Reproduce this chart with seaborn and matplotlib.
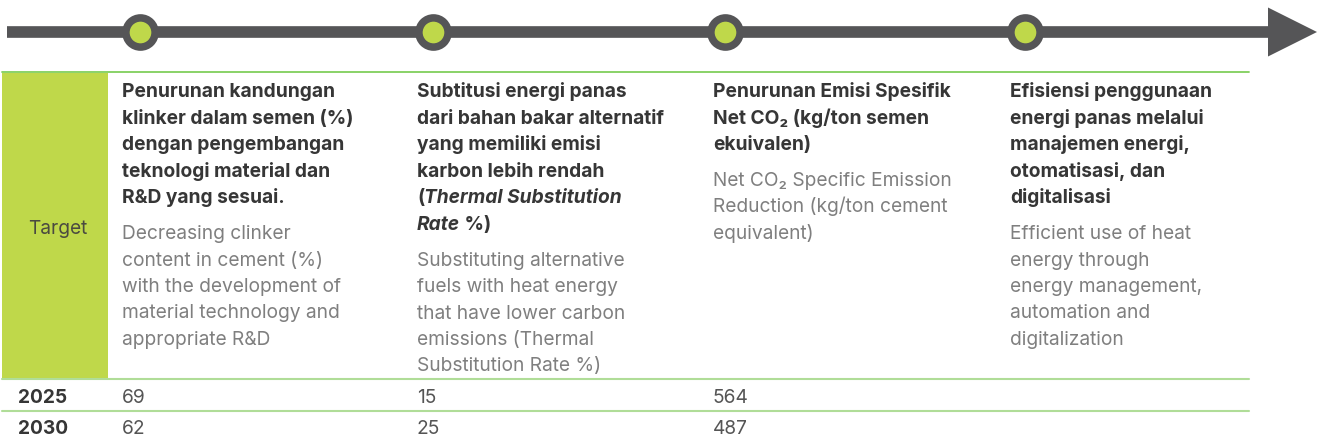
import matplotlib
matplotlib.use("Agg")
import matplotlib.pyplot as plt
import seaborn as sns
import pandas as pd

# --- Data ---
milestones = ["Klinker", "TSR", "Net CO2", "Efisiensi"]
years = ["2025", "2030"]
values_2025 = ["69", "15", "564", ""]
values_2030 = ["62", "25", "487", ""]
headers_id = [
    ["Penurunan kandungan", "klinker dalam semen (%)", "dengan pengembangan",
     "teknologi material dan", "R&D yang sesuai."],
    ["Subtitusi energi panas", "dari bahan bakar alternatif", "yang memiliki emisi",
     "karbon lebih rendah", "(Thermal Substitution", "Rate %)"],
    ["Penurunan Emisi Spesifik", "Net CO\u2082 (kg/ton semen", "ekuivalen)"],
    ["Efisiensi penggunaan", "energi panas melalui", "manajemen energi,",
     "otomatisasi, dan", "digitalisasi"],
]
headers_en = [
    ["Decreasing clinker", "content in cement (%)", "with the development of",
     "material technology and", "appropriate R&D"],
    ["Substituting alternative", "fuels with heat energy", "that have lower carbon",
     "emissions (Thermal", "Substitution Rate %)"],
    ["Net CO\u2082 Specific Emission", "Reduction (kg/ton cement", "equivalent)"],
    ["Efficient use of heat", "energy through", "energy management,",
     "automation and", "digitalization"],
]
row_label = "Target"

# --- Style ---
sns.set_theme(style="white")
FONT = ["Inter", "DejaVu Sans"]
plt.rcParams["font.family"] = FONT

DARK = "#555557"
LIME = "#bfd84a"
LINE_GREEN = "#80cf5c"
ROW_GREEN = "#b0dd98"
TXT = "#363636"
GREY = "#7f7f7f"
FS = 13.8
LH = 26.6       # bold baseline-to-baseline in px
LH_EN = 26.3    # grey baseline-to-baseline in px
GAP = 36        # last bold line -> first grey line
BASE0 = 97.0    # first header baseline

col_x = [122, 417, 713, 1010]
node_x = [140, 433, 725, 1025]

fig = plt.figure(figsize=(13.22, 4.41), dpi=100)
ax = fig.add_axes([0, 0, 1, 1])
ax.set_xlim(0, 1322)
ax.set_ylim(441, 0)
ax.axis("off")

# timeline
ax.plot([7, 1270], [32, 32], color=DARK, lw=8.4, solid_capstyle="butt", zorder=1)
ax.fill([1268, 1317, 1268], [7.5, 32, 56.5], color=DARK, zorder=1, lw=0)
nodes = pd.DataFrame({"x": node_x, "y": [32] * 4, "m": milestones})
sns.scatterplot(data=nodes, x="x", y="y", ax=ax, s=441, color=LIME,
                edgecolor=DARK, linewidth=5.4, zorder=3, legend=False)

# table lines
ax.plot([2, 1249], [72, 72], color=LINE_GREEN, lw=1.3)
ax.fill_between([2, 108], 72.7, 377.5, color=LIME, lw=0)
ax.plot([2, 1249], [379, 379], color=ROW_GREEN, lw=1.5)
ax.plot([2, 1249], [410.5, 410.5], color=ROW_GREEN, lw=1.5)

ax.text(58, 234.5, row_label, ha="center", va="baseline", fontsize=FS, color="#4a4a40")

fig.canvas.draw()
renderer = fig.canvas.get_renderer()


def px_width(t):
    return t.get_window_extent(renderer).width


for i, (hid, hen) in enumerate(zip(headers_id, headers_en)):
    x0 = col_x[i]
    y = BASE0
    for line in hid:
        if line.startswith("(Thermal"):
            t1 = ax.text(x0, y, "(", fontsize=FS, weight="bold", color=TXT, va="baseline")
            w = px_width(t1)
            ax.text(x0 + w, y, line[1:], fontsize=FS, weight="bold", style="italic",
                    color=TXT, va="baseline")
        elif line.startswith("Rate"):
            t1 = ax.text(x0, y, "Rate", fontsize=FS, weight="bold", style="italic",
                         color=TXT, va="baseline")
            w = px_width(t1)
            ax.text(x0 + w, y, " %)", fontsize=FS, weight="bold", color=TXT, va="baseline")
        else:
            ax.text(x0, y, line, fontsize=FS, weight="bold", color=TXT, va="baseline")
        y += LH
    y += GAP - LH
    for line in hen:
        ax.text(x0, y, line, fontsize=FS, color=GREY, va="baseline")
        y += LH_EN

# value rows
for yr, vals, yy in [(years[0], values_2025, 403), (years[1], values_2030, 434)]:
    ax.text(18, yy, yr, fontsize=FS, weight="bold", color=TXT, va="baseline")
    for x0, v in zip(col_x, vals):
        ax.text(x0, yy, v, fontsize=FS, color="#555555", va="baseline")

fig.savefig("out.png", dpi=100)
